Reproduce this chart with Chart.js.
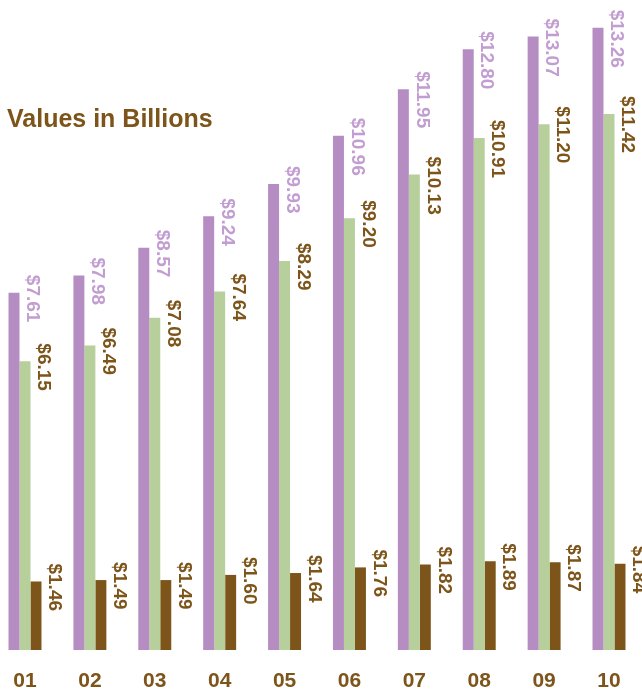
<!DOCTYPE html>
<html>
<head>
<meta charset="utf-8">
<script src="https://cdn.jsdelivr.net/npm/chart.js@4"></script>
<style>
  body { margin: 0; background: #fff; }
  #wrap { position: relative; width: 642px; height: 694px; }
</style>
</head>
<body>
<div id="wrap"><canvas id="chart"></canvas></div>
<script>
// data
const years = ["01", "02", "03", "04", "05", "06", "07", "08", "09", "10"];
const purpleVals = [7.61, 7.98, 8.57, 9.24, 9.93, 10.96, 11.95, 12.80, 13.07, 13.26];
const greenVals = [6.15, 6.49, 7.08, 7.64, 8.29, 9.20, 10.13, 10.91, 11.20, 11.42];
const brownVals = [1.46, 1.49, 1.49, 1.60, 1.64, 1.76, 1.82, 1.89, 1.87, 1.84];

const BROWN = "#7d5419";
const FONT = "'Liberation Sans', Arial, sans-serif";

// vertical value labels next to each bar, text going down
const barLabels = {
    id: "barLabels",
    afterDatasetsDraw(chart) {
        const ctx = chart.ctx;
        ctx.save();
        ctx.font = "bold 19px " + FONT;
        chart.data.datasets.forEach((ds, i) => {
            const meta = chart.getDatasetMeta(i);
            meta.data.forEach((bar, j) => {
                const right = bar.x + bar.width / 2;
                ctx.save();
                ctx.translate(right + 13, bar.y - 18);
                ctx.rotate(Math.PI / 2);
                ctx.fillStyle = ds.labelColor;
                ctx.textAlign = "left";
                ctx.textBaseline = "middle";
                ctx.fillText("$" + ds.data[j].toFixed(2), 0, 0);
                ctx.restore();
            });
        });
        ctx.restore();
    }
};

// heading sits inside the plot, top left
const heading = {
    id: "heading",
    afterDraw(chart) {
        const ctx = chart.ctx;
        ctx.save();
        ctx.font = "bold 25px " + FONT;
        ctx.fillStyle = BROWN;
        ctx.textBaseline = "alphabetic";
        ctx.fillText("Values in Billions", 7, 127);
        ctx.restore();
    }
};

new Chart(document.getElementById("chart"), {
    type: "bar",
    data: {
        labels: years,
        datasets: [
            { data: purpleVals, backgroundColor: "#b58dc2", labelColor: "#c29dd1" },
            { data: greenVals, backgroundColor: "#b6cf9b", labelColor: BROWN },
            { data: brownVals, backgroundColor: "#7d5419", labelColor: BROWN },
        ],
    },
    options: {
        responsive: true,
        maintainAspectRatio: false,
        animation: false,
        layout: { padding: { left: 25, right: 33, top: 0, bottom: 2 } },
        datasets: {
            bar: { categoryPercentage: 0.508, barPercentage: 1, clip: false, borderWidth: 0 }
        },
        plugins: { legend: { display: false }, tooltip: { enabled: false } },
        scales: {
            x: {
                offset: false,
                grid: { display: false },
                border: { display: false },
                afterFit(scale) { scale.height = 42; },
                ticks: {
                    color: BROWN,
                    padding: 11,
                    maxRotation: 0,
                    font: { family: FONT, size: 21, weight: "bold" }
                }
            },
            y: { display: false, min: 0, max: 13.85 }
        }
    },
    plugins: [barLabels, heading]
});
</script>
</body>
</html>
